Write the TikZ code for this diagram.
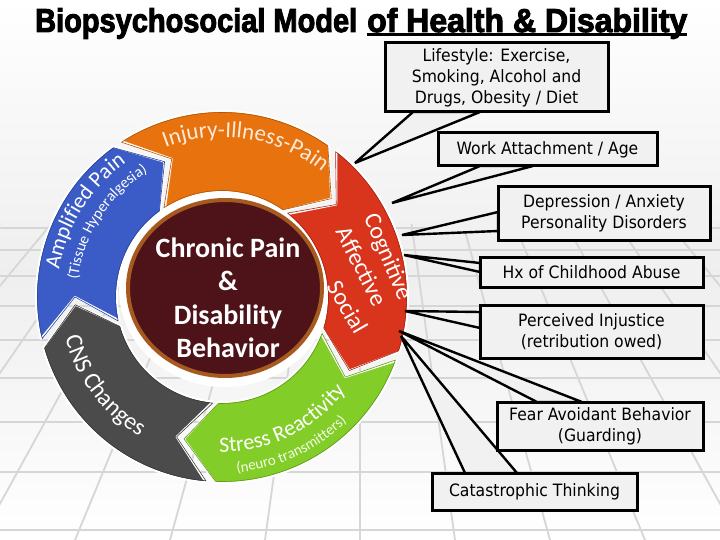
\documentclass[tikz,border=0pt]{standalone}
\usepackage{fontspec}
\usetikzlibrary{decorations.text}
\newfontfamily\carl{Carlito}
\newfontfamily\boxf[FakeStretch=0.92]{DejaVu Sans}
\newfontfamily\titlef[FakeBold=3]{Liberation Sans Bold}
\definecolor{cOrange}{HTML}{E8720E}
\definecolor{cRed}{HTML}{D9341C}
\definecolor{cGreen}{HTML}{82CD28}
\definecolor{cGray}{HTML}{4B4B4B}
\definecolor{cBlue}{HTML}{3B5CC6}
\definecolor{cMaroon}{HTML}{4E1319}
\definecolor{cDiskB}{HTML}{A65A1F}
\definecolor{cInj}{HTML}{FDEADA}
\definecolor{cNeuro}{HTML}{F4FBE6}
\definecolor{boxc}{HTML}{F1F1F1}
\definecolor{gridc}{HTML}{D6D6D6}
\def\RingO{186}\def\RingI{105}\def\RingM{147}
\newcommand\ringseg[3]{%
  \pgfmathsetmacro\tipA{#3-13}\pgfmathsetmacro\notA{#2-13}%
  \path[fill=#1, draw=white, line width=2pt, line join=round]
    (#2:\RingO) arc[start angle=#2, end angle=#3, radius=\RingO]
    -- (\tipA:\RingM) -- (#3:\RingI)
    arc[start angle=#3, end angle=#2, radius=\RingI]
    -- (\notA:\RingM) -- cycle;
  \path[draw=#1!75!black, line width=0.6pt, line join=round]
    (#2:\RingO-1.5) arc[start angle=#2, end angle=#3, radius=\RingO-1.5]
    -- (\tipA:\RingM) -- (#3:\RingI+1.5)
    arc[start angle=#3, end angle=#2, radius=\RingI+1.5]
    -- (\notA:\RingM) -- cycle;}
\newcommand\arctext[6]{%
  \path[decorate, decoration={text along path, text align=center,
    text color=#6, text={|#4|#5}}]
    (#2:#1) arc[start angle=#2, end angle=#3, radius=#1];}
\tikzset{
  callout/.style={draw=black, line width=3pt, fill=boxc, inner sep=0pt,
    align=center, font=\boxf\fontsize{17}{21}\selectfont},
  wedge/.style={fill=boxc, draw=black, line width=2.4pt, line join=miter, miter limit=4},
  segtxt/.style={font=\carl\fontsize{24}{24}\selectfont, text=white, inner sep=0pt}
}
\begin{document}
\begin{tikzpicture}[x=1pt,y=1pt]
\useasboundingbox (0,0) rectangle (720,-540);
% background
\shade[top color=white, bottom color=white, middle color=gray!13] (0,0) rectangle (720,-540);
\begin{scope}
  \clip (0,-225) rectangle (720,-540);
  \foreach \k in {-9,...,9} \draw[gridc, line width=1.8pt] (360,150) -- ({360+\k*95},-540);
  \foreach \yy in {228,250,276,306,340,378,422,472,530} \draw[gridc, line width=1.8pt] (0,-\yy) -- (720,-\yy);
\end{scope}
% title
\node[anchor=base west, inner sep=0pt] (t1) at (35,-32) {\resizebox{322pt}{24pt}{\titlef Biopsychosocial Model}};
\node[anchor=base west, inner sep=0pt] (t2) at (367,-32) {\resizebox{320pt}{24pt}{\titlef of Health \& Disability}};
\draw[line width=2.2pt] ([yshift=-2.5pt]t2.base west) -- ([yshift=-2.5pt]t2.base east);
% halo and ring
\fill[white] (225,-289) ellipse [x radius=106, y radius=98];
\begin{scope}[shift={(222,-297)}]
  \ringseg{cOrange}{123}{55}
  \ringseg{cRed}{52}{-17}
  \ringseg{cGreen}{-20}{-92}
  \ringseg{cGray}{-95}{-164}
  \ringseg{cBlue}{193}{126}
  \arctext{160}{121}{41}{\carl\fontsize{23}{23}\selectfont}{Injury-Illness-Pain}{cInj}
  \arctext{165}{188}{108}{\carl\fontsize{22}{22}\selectfont}{Amplified Pain}{white}
  \arctext{145}{187}{107}{\carl\fontsize{15.5}{15.5}\selectfont}{(Tissue Hyperalgesia)}{white}
  \arctext{162}{177}{257}{\carl\fontsize{24}{24}\selectfont}{CNS Changes}{white}
  \arctext{155}{-107}{-21}{\carl\fontsize{22}{22}\selectfont}{Stress Reactivity}{white}
  \arctext{176}{-108}{-22}{\carl\fontsize{15}{15}\selectfont}{(neuro transmitters)}{cNeuro}
\end{scope}
% center disk
\draw[fill=cMaroon, draw=cDiskB, line width=4pt] (225,-288) ellipse [x radius=97, y radius=88];
\node[font=\carl\bfseries\fontsize{28}{33.5}\selectfont, text=white, align=center, inner sep=0pt] (ctr) at (228,-298) {Chronic Pain\\\&\\Disability\\Behavior};
% red segment texts
\node[segtxt, rotate=-67] (cog) at (387,-257) {Cognitive};
\node[segtxt, rotate=-63] (aff) at (362,-266) {Affective};
\node[segtxt, rotate=-60] (soc) at (348,-307) {Social};
% wedge points
\coordinate (lA) at (413,-112); \coordinate (lB) at (480,-112); \coordinate (lT) at (355,-163);
\coordinate (wA) at (480,-166); \coordinate (wB) at (533,-166); \coordinate (wT) at (392,-203);
\coordinate (dA) at (498,-212); \coordinate (dB) at (498,-231); \coordinate (dT) at (402,-235);
\coordinate (hA) at (480,-263); \coordinate (hB) at (480,-272); \coordinate (hT) at (404,-255);
\coordinate (iA) at (480,-312); \coordinate (iB) at (480,-328); \coordinate (iT) at (405,-311);
\coordinate (fA) at (537,-402); \coordinate (fB) at (582,-402); \coordinate (fT) at (399,-331);
\coordinate (cA) at (465,-473); \coordinate (cB) at (517,-473); \coordinate (cT) at (401,-336);
\path[wedge] (lA) -- (lT) -- (lB) -- cycle;
\path[wedge] (wA) -- (wT) -- (wB) -- cycle;
\path[wedge] (dA) -- (dT) -- (dB) -- cycle;
\path[wedge] (hA) -- (hT) -- (hB) -- cycle;
\path[wedge] (iA) -- (iT) -- (iB) -- cycle;
\path[wedge] (cA) -- (cT) -- (cB) -- cycle;
\path[wedge] (fA) -- (fT) -- (fB) -- cycle;
% callout boxes
\node[callout, minimum width=223pt, minimum height=69pt] (life) at (496.5,-77.5) {Lifestyle: Exercise,\\Smoking, Alcohol and\\Drugs, Obesity / Diet};
\node[callout, minimum width=219pt, minimum height=33pt] (work) at (547.5,-149.5) {Work Attachment / Age};
\node[callout, minimum width=212pt, minimum height=53pt] (dep) at (604,-213.5) {Depression / Anxiety\\Personality Disorders};
\node[callout, minimum width=223pt, minimum height=30pt] (hx) at (591.5,-272) {Hx of Childhood Abuse};
\node[callout, minimum width=223pt, minimum height=53pt] (inj) at (591.5,-331.5) {Perceived Injustice\\(retribution owed)};
\node[callout, minimum width=206pt, minimum height=48pt] (fear) at (600,-426) {Fear Avoidant Behavior\\(Guarding)};
\node[callout, minimum width=205pt, minimum height=37pt] (cat) at (534.5,-491.5) {Catastrophic Thinking};
\end{tikzpicture}
\end{document}
